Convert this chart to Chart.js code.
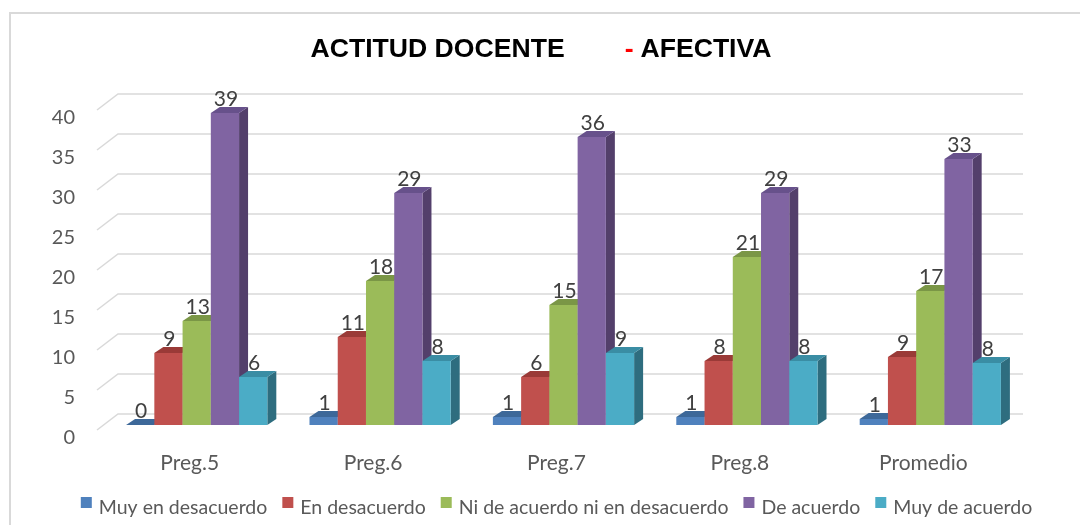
<!DOCTYPE html>
<html lang="es">
<head>
<meta charset="utf-8">
<title>Actitud docente - afectiva</title>
<script src="https://cdn.jsdelivr.net/npm/chart.js@4.4.0/dist/chart.umd.min.js"></script>
<style>
  html, body { margin: 0; padding: 0; background: #fff; overflow: hidden; }
  #chartBox { width: 1080px; height: 525px; }
</style>
</head>
<body>
<div id="chartBox"><canvas id="chart" width="1080" height="525"></canvas></div>
<script>
// chart data
const categories = ['Preg.5', 'Preg.6', 'Preg.7', 'Preg.8', 'Promedio'];
const seriesNames = ['Muy en desacuerdo', 'En desacuerdo', 'Ni de acuerdo ni en desacuerdo', 'De acuerdo', 'Muy de acuerdo'];
const muyEnDesacuerdo = [0, 1, 1, 1, 0.75];
const enDesacuerdo = [9, 11, 6, 8, 8.5];
const niDeAcuerdo = [13, 18, 15, 21, 16.75];
const deAcuerdo = [39, 29, 36, 29, 33.25];
const muyDeAcuerdo = [6, 8, 9, 8, 7.75];
const yTicks = [0, 5, 10, 15, 20, 25, 30, 35, 40];

// styling
const frontColors = ['#4F81BD', '#C0504D', '#9BBB59', '#8064A2', '#4BACC6'];
const topColors = ['#3D6899', '#9A3A37', '#7A9646', '#67518B', '#3A8DA4'];
const sideColors = ['#385D8A', '#863532', '#6E8A3D', '#533F6B', '#2E6D7F'];
const DEPTH_X = 9;
const DEPTH_Y = -6;
const TEXT_GREY = '#595959';

const seriesValues = [muyEnDesacuerdo, enDesacuerdo, niDeAcuerdo, deAcuerdo, muyDeAcuerdo];

function fillPoly(ctx, color, pts) {
    ctx.fillStyle = color;
    ctx.beginPath();
    ctx.moveTo(pts[0][0], pts[0][1]);
    for (let k = 1; k < pts.length; k++) ctx.lineTo(pts[k][0], pts[k][1]);
    ctx.closePath();
    ctx.fill();
}

/**
 * Back wall gridlines with the little floor diagonal on the left
 */
function drawGrid(chart) {
    const { ctx, chartArea: a, scales: { y } } = chart;
    ctx.save();
    ctx.strokeStyle = '#D9D9D9';
    ctx.lineWidth = 1.5;
    y.ticks.forEach(t => {
        const py = y.getPixelForValue(t.value);
        ctx.beginPath();
        ctx.moveTo(a.left - 8, py + 5);
        ctx.lineTo(a.left + 13, py - 11);
        ctx.lineTo(a.right + 1, py - 11);
        ctx.stroke();
    });
    ctx.restore();
}

/**
 * Fake 3D columns: front, top and side faces, left to right
 */
function drawBars(chart) {
    const ctx = chart.ctx;
    const metas = chart.data.datasets.map((d, i) => chart.getDatasetMeta(i));
    ctx.save();
    categories.forEach((c, j) => {
        metas.forEach((meta, i) => {
            const { x, y, base, width } = meta.data[j].getProps(['x', 'y', 'base', 'width'], true);
            const l = x - width / 2;
            const r = x + width / 2;
            fillPoly(ctx, sideColors[i], [[r, y], [r + DEPTH_X, y + DEPTH_Y], [r + DEPTH_X, base + DEPTH_Y], [r, base]]);
            ctx.fillStyle = frontColors[i];
            ctx.fillRect(l, y, width, base - y);
            fillPoly(ctx, topColors[i], [[l, y], [l + DEPTH_X, y + DEPTH_Y], [r + DEPTH_X, y + DEPTH_Y], [r, y]]);
        });
    });
    ctx.restore();
}

function drawValueLabels(chart) {
    const ctx = chart.ctx;
    ctx.save();
    ctx.font = '21px Lato';
    ctx.fillStyle = '#404040';
    ctx.textAlign = 'center';
    ctx.textBaseline = 'alphabetic';
    chart.data.datasets.forEach((ds, i) => {
        chart.getDatasetMeta(i).data.forEach((el, j) => {
            ctx.fillText(String(Math.round(ds.data[j])), el.x + 1, el.y - 7);
        });
    });
    ctx.restore();
}

function drawTitle(chart) {
    const ctx = chart.ctx;
    const parts = ['ACTITUD DOCENTE', '-', 'AFECTIVA'];
    const gaps = [60, 7];
    ctx.save();
    ctx.font = 'bold 26.6px "Liberation Sans", Arial, sans-serif';
    ctx.textBaseline = 'alphabetic';
    ctx.textAlign = 'left';
    const widths = parts.map(p => ctx.measureText(p).width);
    const total = widths[0] + gaps[0] + widths[1] + gaps[1] + widths[2];
    let x = 541 - total / 2;
    parts.forEach((p, k) => {
        ctx.fillStyle = k === 1 ? '#FF0000' : '#000000';
        ctx.fillText(p, x, 57);
        x += widths[k] + (gaps[k] || 0);
    });
    ctx.restore();
}

function drawLegend(chart) {
    const { ctx, chartArea: a } = chart;
    const box = 11, textGap = 7, itemGap = 15;
    ctx.save();
    ctx.font = '19.5px Lato';
    ctx.textBaseline = 'alphabetic';
    ctx.textAlign = 'left';
    const widths = seriesNames.map(n => box + textGap + ctx.measureText(n).width);
    const total = widths.reduce((s, w) => s + w, 0) + itemGap * (widths.length - 1);
    let x = (a.left + a.right) / 2 - 7 - total / 2;
    seriesNames.forEach((n, i) => {
        ctx.fillStyle = frontColors[i];
        ctx.fillRect(x, 497, box, box);
        ctx.fillStyle = TEXT_GREY;
        ctx.fillText(n, x + box + textGap, 514);
        x += widths[i] + itemGap;
    });
    ctx.restore();
}

const bars3d = {
    id: 'bars3d',
    beforeDraw(chart) {
        const ctx = chart.ctx;
        ctx.save();
        ctx.fillStyle = '#FFFFFF';
        ctx.fillRect(0, 0, chart.width, chart.height);
        ctx.strokeStyle = '#D9D9D9';
        ctx.lineWidth = 2;
        ctx.strokeRect(10, 13, 1200, 700);
        ctx.restore();
    },
    beforeDatasetsDraw(chart) {
        drawGrid(chart);
        drawBars(chart);
        return false; // skip the flat default bars
    },
    afterDraw(chart) {
        drawValueLabels(chart);
        drawTitle(chart);
        drawLegend(chart);
    }
};

const chart = new Chart(document.getElementById('chart'), {
    type: 'bar',
    data: {
        labels: categories,
        datasets: seriesValues.map((vals, i) => ({
            label: seriesNames[i],
            data: vals,
            backgroundColor: frontColors[i]
        }))
    },
    options: {
        responsive: false,
        animation: false,
        devicePixelRatio: 1,
        layout: { padding: { top: 105, right: 58, bottom: 0, left: 0 } },
        datasets: { bar: { categoryPercentage: 0.77, barPercentage: 1 } },
        plugins: {
            legend: { display: false },
            title: { display: false },
            tooltip: { enabled: false }
        },
        scales: {
            x: {
                grid: { display: false, drawTicks: false },
                border: { display: false },
                ticks: {
                    font: { family: 'Lato', size: 21 },
                    color: TEXT_GREY,
                    padding: 26,
                    labelOffset: -7,
                    maxRotation: 0
                },
                afterFit(s) { s.height = 100; }
            },
            y: {
                min: 0,
                max: 40,
                grid: { display: false, drawTicks: false },
                border: { display: false },
                ticks: {
                    font: { family: 'Lato', size: 20 },
                    color: TEXT_GREY,
                    padding: 30,
                    labelOffset: 13
                },
                afterBuildTicks(s) { s.ticks = yTicks.map(v => ({ value: v })); },
                afterFit(s) { s.width = 105; }
            }
        }
    },
    plugins: [bars3d]
});
</script>
</body>
</html>
